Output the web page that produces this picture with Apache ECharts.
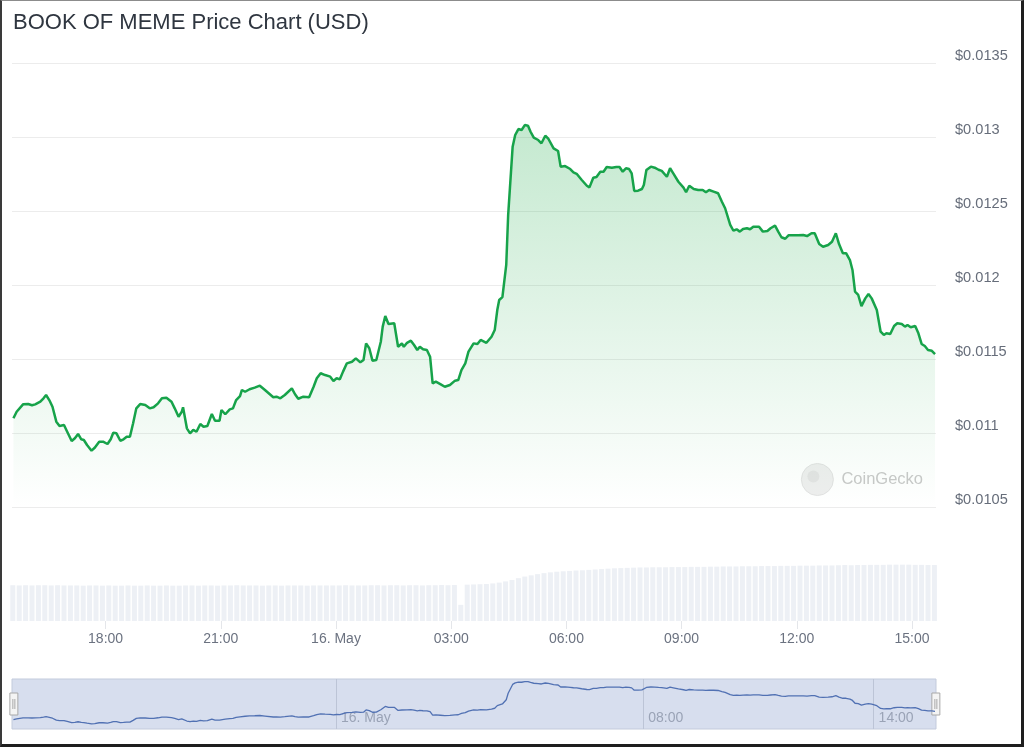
<!DOCTYPE html>
<html>
<head>
<meta charset="utf-8">
<script src="https://cdn.jsdelivr.net/npm/echarts@6/dist/echarts.min.js"></script>
<style>
  html, body { margin: 0; padding: 0; background: #fff; }
  #chart { position: absolute; left: 0; top: 0; width: 1024px; height: 747px; }
  #frame { position: absolute; left: 0; top: 0; width: 1024px; height: 747px; box-sizing: border-box;
           border-top: 1px solid #8c8c8c; border-left: 2px solid #3a3a3a; border-bottom: 3px solid #1e1e1e; border-right: 3px solid #1e1e1e;
           pointer-events: none; }
</style>
</head>
<body>
<div id="chart"></div>
<div id="frame"></div>
<script>
// ---- data (times in minutes after 15 May 2024 15:35 UTC) ----
const startUTC = Date.UTC(2024, 4, 15, 15, 35);

const pricePoints = [
  [1,0.011103],[6,0.011147],[16,0.011197],[24,0.011199],[30,0.011191],[35,0.011197],[43,0.011215],[48,0.011238],
  [52,0.011260],[57,0.011226],[62,0.011181],[68,0.011080],[73,0.011051],[80,0.011057],[85,0.011012],[92,0.010949],
  [97,0.010968],[102,0.010997],[107,0.010961],[111,0.010956],[116,0.010922],[123,0.010884],[128,0.010904],[135,0.010945],
  [141,0.010945],[148,0.010929],[153,0.010961],[157,0.011005],[162,0.011001],[168,0.010951],[173,0.010961],[178,0.010978],
  [183,0.010978],[188,0.011069],[193,0.011170],[199,0.011199],[207,0.011192],[214,0.011170],[220,0.011177],[227,0.011204],
  [233,0.011238],[240,0.011242],[248,0.011215],[253,0.011170],[259,0.011113],[264,0.011147],[266,0.011177],[272,0.011035],
  [277,0.011001],[282,0.011024],[287,0.011012],[293,0.011064],[298,0.011046],[304,0.011051],[311,0.011132],[316,0.011086],
  [323,0.011086],[326,0.011159],[332,0.011130],[339,0.011163],[344,0.011170],[349,0.011226],[355,0.011253],[358,0.011294],
  [363,0.011282],[370,0.011299],[378,0.011310],[386,0.011323],[394,0.011294],[407,0.011245],[412,0.011249],[418,0.011238],
  [425,0.011260],[436,0.011305],[441,0.011265],[446,0.011235],[454,0.011249],[463,0.011245],[470,0.011316],[475,0.011373],
  [481,0.011407],[488,0.011395],[496,0.011384],[501,0.011355],[506,0.011373],[511,0.011366],[516,0.011418],[522,0.011474],
  [530,0.011485],[536,0.011508],[543,0.011481],[548,0.011497],[552,0.011609],[557,0.011576],[562,0.011492],[568,0.011497],
  [575,0.011620],[578,0.011722],[582,0.011794],[587,0.011740],[596,0.011745],[602,0.011586],[608,0.011609],[611,0.011586],
  [616,0.011613],[622,0.011627],[627,0.011598],[632,0.011564],[636,0.011586],[641,0.011569],[647,0.011564],[652,0.011519],
  [656,0.011339],[661,0.011350],[668,0.011334],[675,0.011316],[683,0.011328],[691,0.011357],[696,0.011361],[701,0.011429],
  [707,0.011474],[712,0.011553],[720,0.011609],[726,0.011605],[731,0.011632],[740,0.011613],[748,0.011654],[753,0.011699],
  [757,0.011834],[760,0.011902],[765,0.011922],[771,0.012139],[774,0.012476],[781,0.012938],[785,0.013017],[790,0.013057],
  [795,0.013051],[800,0.013084],[805,0.013080],[809,0.013039],[814,0.012999],[821,0.012983],[826,0.012961],[832,0.013012],
  [837,0.012990],[845,0.012927],[852,0.012909],[856,0.012803],[863,0.012807],[871,0.012787],[876,0.012765],[881,0.012755],
  [889,0.012713],[897,0.012674],[901,0.012663],[907,0.012728],[912,0.012733],[918,0.012769],[923,0.012769],[928,0.012801],
  [936,0.012796],[943,0.012801],[948,0.012801],[953,0.012769],[958,0.012792],[963,0.012787],[967,0.012758],[971,0.012639],
  [977,0.012641],[983,0.012652],[986,0.012679],[990,0.012780],[997,0.012803],[1003,0.012796],[1009,0.012782],[1014,0.012774],
  [1022,0.012735],[1027,0.012792],[1032,0.012758],[1040,0.012701],[1048,0.012661],[1052,0.012630],[1057,0.012674],[1064,0.012652],
  [1071,0.012645],[1078,0.012645],[1083,0.012630],[1088,0.012645],[1095,0.012634],[1102,0.012623],[1108,0.012566],[1113,0.012522],
  [1121,0.012409],[1126,0.012370],[1131,0.012380],[1136,0.012364],[1141,0.012382],[1147,0.012387],[1152,0.012380],[1157,0.012397],
  [1166,0.012397],[1172,0.012364],[1179,0.012368],[1184,0.012387],[1191,0.012404],[1196,0.012364],[1201,0.012326],[1207,0.012316],
  [1212,0.012339],[1220,0.012339],[1227,0.012339],[1235,0.012341],[1241,0.012334],[1248,0.012353],[1253,0.012353],[1260,0.012280],
  [1266,0.012262],[1274,0.012274],[1280,0.012296],[1286,0.012353],[1291,0.012280],[1297,0.012218],[1302,0.012218],[1308,0.012172],
  [1312,0.012105],[1316,0.011958],[1321,0.011936],[1326,0.011861],[1332,0.011913],[1337,0.011943],[1342,0.011913],[1350,0.011834],
  [1356,0.011688],[1361,0.011666],[1365,0.011677],[1371,0.011672],[1377,0.011726],[1382,0.011745],[1389,0.011740],[1394,0.011722],
  [1398,0.011733],[1403,0.011718],[1410,0.011726],[1415,0.011677],[1420,0.011605],[1425,0.011591],[1430,0.011564],[1436,0.011559],
  [1441,0.011537]
];

// 24h volume (USD millions), one bar every 10 minutes from 15:35
const volumeMillions = [
  177,176,177,176,177,177,176,177,176,176,
  176,175,176,176,175,176,175,175,176,175,
  175,176,175,175,176,175,175,176,176,175,
  176,176,175,176,176,177,176,176,176,175,
  176,176,175,176,176,176,175,176,176,176,
  176,176,177,176,176,176,177,177,176,177,
  177,176,177,177,176,177,177,178,177,178,
  80,180,181,182,183,186,190,196,203,212,
  220,226,232,237,241,244,246,248,250,251,
  253,255,257,259,261,262,263,264,265,265,
  266,266,266,267,267,267,268,268,268,269,
  269,270,270,270,271,271,271,272,272,272,
  273,273,273,274,274,274,275,275,275,276,
  277,276,277,277,278,278,278,279,279,279,
  279,278,278,277,277
];
const volumeStepMinutes = 10;

const yTicks = { min: 0.0105, max: 0.0135, step: 0.0005 };
// tick label times (UTC)
const mainTickTimes = [
  Date.UTC(2024,4,15,18), Date.UTC(2024,4,15,21), Date.UTC(2024,4,16,0), Date.UTC(2024,4,16,3),
  Date.UTC(2024,4,16,6), Date.UTC(2024,4,16,9), Date.UTC(2024,4,16,12), Date.UTC(2024,4,16,15)
];
const navTickTimes = [Date.UTC(2024,4,16,0), Date.UTC(2024,4,16,8), Date.UTC(2024,4,16,14)];
const monthNames = ['Jan','Feb','Mar','Apr','May','Jun','Jul','Aug','Sep','Oct','Nov','Dec'];

// ---- build ----
const MIN = 60000;
const priceData = pricePoints.map(p => [startUTC + p[0] * MIN, p[1]]);
const volumeData = volumeMillions.map((v, i) => [startUTC + i * volumeStepMinutes * MIN, v * 1e6]);
const xMin = startUTC - 1.25 * MIN;
const xMax = startUTC + 1442.5 * MIN;

function timeLabel(val) {
  const d = new Date(val);
  const h = d.getUTCHours(), m = d.getUTCMinutes();
  if (h === 0 && m === 0) return d.getUTCDate() + '. ' + monthNames[d.getUTCMonth()];
  return String(h).padStart(2, '0') + ':' + String(m).padStart(2, '0');
}

const FONT = '"Liberation Sans", Arial, Helvetica, sans-serif';
const chart = echarts.init(document.getElementById('chart'), null, { renderer: 'canvas' });

chart.setOption({
  animation: false,
  backgroundColor: '#ffffff',
  textStyle: { fontFamily: FONT },
  title: {
    text: 'BOOK OF MEME Price Chart (USD)',
    left: 8, top: 7,
    textStyle: { fontFamily: FONT, fontSize: 22, fontWeight: 'normal', color: '#2f3640' }
  },
  grid: [
    { left: 12, right: 88, top: 63.5, bottom: 239.5 },
    { left: 12, right: 88, top: 520, bottom: 126 },
    { left: 12, right: 88, top: 679, bottom: 18, show: true, backgroundColor: '#d7deee', borderColor: '#c3cbdc', borderWidth: 1 }
  ],
  xAxis: [
    { type: 'value', gridIndex: 0, min: xMin, max: xMax, show: false, splitLine: { show: false } },
    {
      type: 'value', gridIndex: 1, min: xMin, max: xMax,
      axisLine: { show: false },
      axisTick: { show: true, length: 8, lineStyle: { color: '#e4e6ea' }, customValues: mainTickTimes },
      axisLabel: { customValues: mainTickTimes, formatter: timeLabel, margin: 11, fontSize: 14, color: '#6b7280', fontFamily: FONT },
      splitLine: { show: false }
    },
    {
      type: 'value', gridIndex: 2, min: xMin, max: xMax,
      axisLine: { show: false },
      axisTick: { show: true, inside: true, length: 50, lineStyle: { color: '#bcc4d6', width: 1 }, customValues: navTickTimes },
      axisLabel: { inside: true, customValues: navTickTimes, formatter: timeLabel, align: 'left', padding: [0, 0, 0, 5],
                   margin: 4, fontSize: 14, color: '#9aa3b6', fontFamily: FONT },
      splitLine: { show: false }
    }
  ],
  yAxis: [
    {
      type: 'value', gridIndex: 0, position: 'right', min: yTicks.min, max: yTicks.max, interval: yTicks.step,
      axisLine: { show: false }, axisTick: { show: false },
      axisLabel: { margin: 19, align: 'left', verticalAlign: 'bottom', fontSize: 14.6, color: '#666d7a', fontFamily: FONT,
                   formatter: v => '$' + (+v.toFixed(5)) },
      splitLine: { show: true, lineStyle: { color: '#ececec', width: 1 } }
    },
    { type: 'value', gridIndex: 1, min: 0, max: 5e8, show: false, splitLine: { show: false } },
    { type: 'value', gridIndex: 2, min: 0.01062, max: 0.01322, show: false, splitLine: { show: false } }
  ],
  dataZoom: [{
    type: 'slider', xAxisIndex: [0, 1], start: 0, end: 100,
    left: 12, right: 88, top: 679, height: 50,
    backgroundColor: 'rgba(0,0,0,0)', borderColor: 'rgba(0,0,0,0)', fillerColor: 'rgba(0,0,0,0)',
    showDataShadow: false, showDetail: false, brushSelect: false, moveHandleSize: 0,
    handleIcon: 'path://M0,0 L8,0 L8,22 L0,22 Z M3,6 L3,16 M5,6 L5,16',
    handleSize: 22,
    handleStyle: { color: '#f4f4f4', borderColor: '#a8a8a8', borderWidth: 1 },
    emphasis: { handleStyle: { color: '#f4f4f4', borderColor: '#a8a8a8' } },
    zoomLock: true
  }],
  series: [
    {
      type: 'line', xAxisIndex: 0, yAxisIndex: 0, data: priceData, showSymbol: false, symbol: 'none',
      lineStyle: { color: '#17a34a', width: 2.5 },
      areaStyle: {
        color: new echarts.graphic.LinearGradient(0, 0, 0, 1, [
          { offset: 0, color: 'rgba(34,172,76,0.38)' },
          { offset: 1, color: 'rgba(34,172,76,0.0)' }
        ])
      },
      z: 3
    },
    {
      type: 'bar', xAxisIndex: 1, yAxisIndex: 1, data: volumeData, barWidth: 5,
      itemStyle: { color: '#edf0f5' }, z: 2
    },
    {
      type: 'line', xAxisIndex: 2, yAxisIndex: 2, data: priceData, showSymbol: false, symbol: 'none',
      lineStyle: { color: '#5171b3', width: 1.3 }, z: 5
    }
  ],
  graphic: [{
    type: 'group', right: 101, top: 463, silent: true,
    children: [
      { type: 'circle', shape: { cx: 16, cy: 16, r: 16 }, style: { fill: '#eeeeee', stroke: '#e2e2e2', lineWidth: 1 } },
      { type: 'circle', shape: { cx: 12, cy: 13, r: 6 }, style: { fill: '#e3e3e3' } },
      { type: 'text', left: 40, top: 7, style: { text: 'CoinGecko', fontFamily: FONT, fontSize: 16.5, fill: '#c9c9c9' } }
    ]
  }]
});
</script>
</body>
</html>
